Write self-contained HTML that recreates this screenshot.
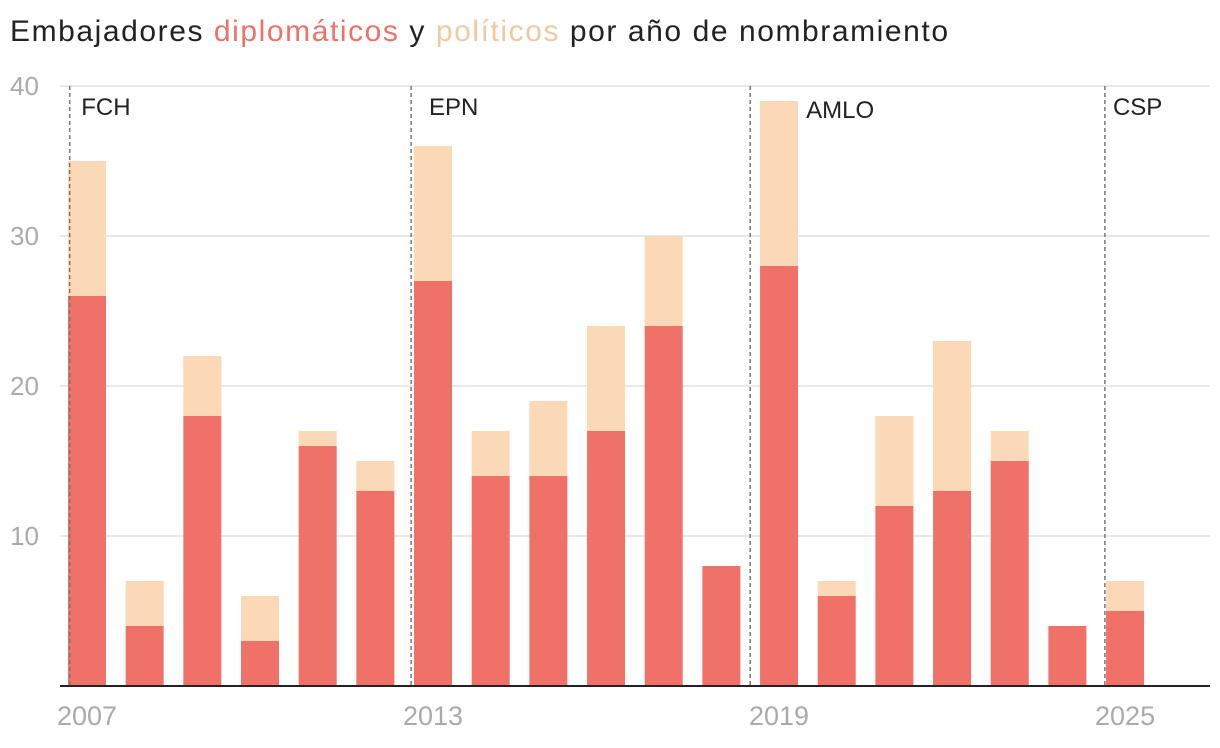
<!DOCTYPE html>
<html><head><meta charset="utf-8"><style>
body{margin:0;background:#fff;}
svg{display:block;font-family:"Liberation Sans",sans-serif;}
</style></head><body>
<svg id="chart" width="1220" height="748">
<text x="10" y="41" font-size="30" fill="#222" textLength="938" lengthAdjust="spacing">Embajadores <tspan fill="#ef7168">diplomáticos</tspan> y <tspan fill="#f0c9a2">políticos</tspan> por año de nombramiento</text>
</svg>
<script>
const years=[2007,2008,2009,2010,2011,2012,2013,2014,2015,2016,2017,2018,2019,2020,2021,2022,2023,2024,2025];
const diplomaticos=[26,4,18,3,16,13,27,14,14,17,24,8,28,6,12,13,15,4,5];
const politicos=[9,3,4,3,1,2,9,3,5,7,6,0,11,1,6,10,2,0,2];
const yTicks=[10,20,30,40];
const xTickYears=[2007,2013,2019,2025];
const terms=["FCH","EPN","AMLO","CSP"];
const termStarts=[2006.7,2012.62,2018.5,2024.65];
const termLabelYears=[2006.9,2012.93,2019.47,2024.79];
const NS="http://www.w3.org/2000/svg";
const svg=document.getElementById('chart');
const x=y=>87+(y-2007)*57.67;
const yS=v=>686-v*15;
function mk(t,a,p){const e=document.createElementNS(NS,t);for(const k in a)e.setAttribute(k,a[k]);(p||svg).appendChild(e);return e;}
yTicks.forEach(v=>{
 const g=mk('line',{x1:60,x2:1210,y1:yS(v),y2:yS(v),stroke:'#e0e0e0','stroke-width':1.5});
 
 
 const t=mk('text',{x:10,y:yS(v)+9,'font-size':26,fill:'#aaa'});t.textContent=v;
 
 
});
years.forEach((yr,i)=>{
 const d=diplomaticos[i],p=politicos[i];
 const r1=mk('rect',{x:x(yr)-19,y:yS(d),width:38,height:d*15,fill:'#ef7168'});
 
 
 if(p>0){const r2=mk('rect',{x:x(yr)-19,y:yS(d+p),width:38,height:p*15,fill:'#fcd9b6'});
 
 }
});
terms.forEach((n,i)=>{
 const xx=x(termStarts[i]);
 const l=mk('line',{x1:xx,x2:xx,y1:86,y2:686,stroke:'#777','stroke-width':1.5,'stroke-dasharray':'4,3'});
 
 
 const t=mk('text',{x:x(termLabelYears[i]),y:n==="AMLO"?118:115,'font-size':24,fill:'#222'});t.textContent=n;
 
 
});
const ax=mk('line',{x1:60,x2:1210,y1:686,y2:686,stroke:'#222','stroke-width':2});


xTickYears.forEach(yr=>{
 const t=mk('text',{x:x(yr),y:725,'font-size':27,fill:'#aaa','text-anchor':'middle'});t.textContent=yr;
 
 
});
</script>
</body></html>
